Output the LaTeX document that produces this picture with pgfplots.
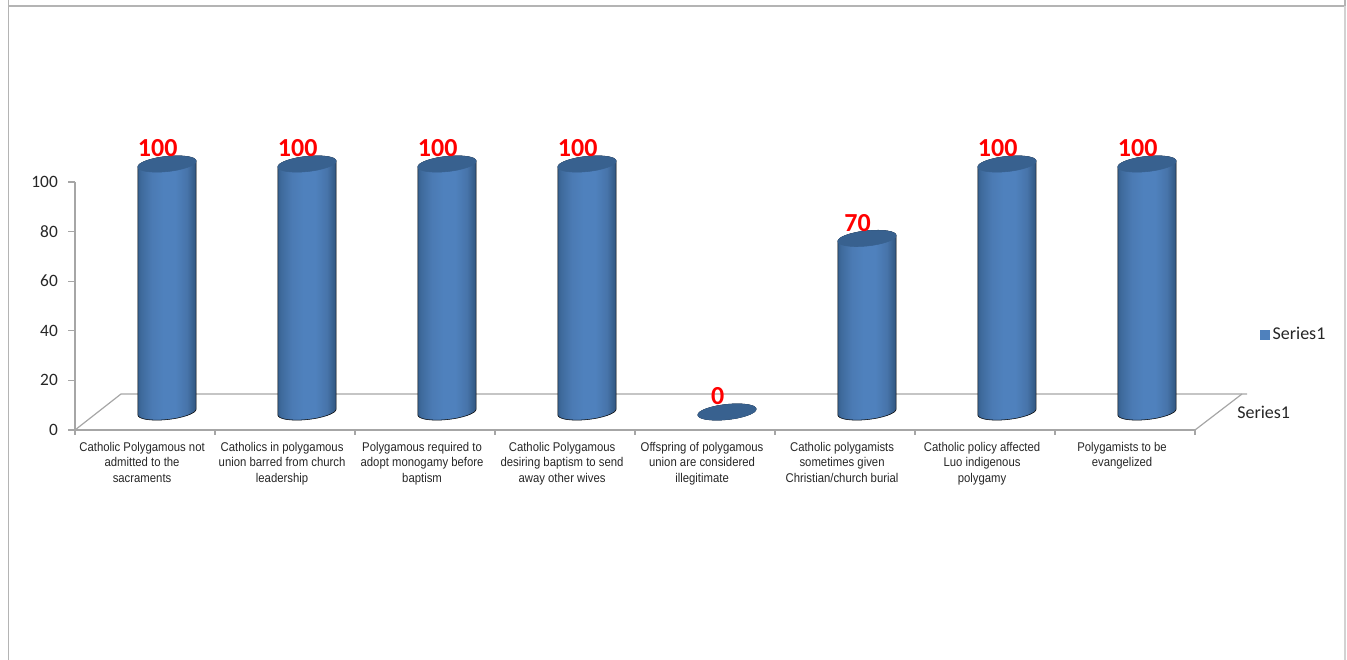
\documentclass[border=0pt]{standalone}
\usepackage{fontspec}
\usepackage{pgfplots}
\pgfplotsset{compat=1.18}
\setmainfont{Carlito}
\newfontfamily\catfont[FakeStretch=0.895]{Liberation Sans}
\definecolor{framegrey}{HTML}{B4B4B4}
\definecolor{axisgrey}{HTML}{A6A6A6}
\definecolor{barblue}{HTML}{4F81BD}
\definecolor{capblue}{HTML}{38618F}
\definecolor{labelink}{HTML}{262626}
% The fitted part of a shading is its middle 50bp
\pgfdeclarehorizontalshading{cylbody}{100bp}{
  color(0bp)=(capblue);
  color(25bp)=(capblue);
  color(28bp)=(capblue!70!barblue);
  color(37bp)=(barblue!95!black);
  color(47bp)=(barblue);
  color(57bp)=(barblue);
  color(67bp)=(barblue!90!black);
  color(72bp)=(capblue);
  color(75bp)=(capblue!88!black);
  color(100bp)=(capblue!88!black)}

% One cylinder: the mark sits on the top of the bar, its height comes from the value
\pgfdeclareplotmark{cylinderbar}{%
  \pgfmathsetmacro\barh{\barval*1.86}%
  \path[shading=cylbody]
    (-21.9pt,-2.19pt) -- (-21.9pt,-2.19pt-\barh pt)
    .. controls (-21.9pt,-5.34pt-\barh pt) and (-12.1pt,-6.91pt-\barh pt) .. (0pt,-5.7pt-\barh pt)
    .. controls (12.1pt,-4.49pt-\barh pt) and (21.9pt,-0.96pt-\barh pt) .. (21.9pt,2.19pt-\barh pt)
    -- (21.9pt,2.19pt)
    .. controls (21.9pt,5.34pt) and (12.1pt,6.91pt) .. (0pt,5.7pt)
    .. controls (-12.1pt,4.49pt) and (-21.9pt,0.96pt) .. (-21.9pt,-2.19pt) -- cycle;
  \fill[capblue]
    (-21.9pt,-2.19pt)
    .. controls (-21.9pt,-5.34pt) and (-12.1pt,-6.91pt) .. (0pt,-5.7pt)
    .. controls (12.1pt,-4.49pt) and (21.9pt,-0.96pt) .. (21.9pt,2.19pt)
    .. controls (21.9pt,5.34pt) and (12.1pt,6.91pt) .. (0pt,5.7pt)
    .. controls (-12.1pt,4.49pt) and (-21.9pt,0.96pt) .. (-21.9pt,-2.19pt) -- cycle;
}

\begin{document}
\begin{tikzpicture}[x=0.75pt,y=0.75pt]
\path[use as bounding box] (0,0) rectangle (1347,660);
% Outer chart frame, open at the foot of the page
\draw[framegrey,line width=1.3pt] (8.5,660) -- (8.5,654) -- (1345,654) -- (1345,660);
\draw[framegrey,line width=1.3pt] (8.5,660) -- (8.5,0);
\draw[framegrey!60,line width=0.8pt] (1345,654) -- (1345,0);

% Front axis with scale and category names
\begin{axis}[
  at={(56.25pt,172.5pt)}, anchor=origin,
  scale only axis, width=840pt, height=186pt,
  xmin=0, xmax=8, ymin=0, ymax=100,
  axis x line=bottom, axis y line=left,
  axis line style={-,draw=axisgrey,line width=0.9pt},
  clip=false,
  ytick={0,20,...,100},
  tick style={draw=axisgrey,line width=0.8pt},
  major tick length=5.2pt,
  tick align=outside,
  /pgf/number format/assume math mode=true,
  yticklabel style={font=\fontsize{13}{15}\selectfont,text=labelink,inner sep=0pt,xshift=-7.5pt},
  xtick={0.5,1.5,...,7.5},
  minor xtick={0,1,...,8},
  x tick style={draw=none},
  minor x tick style={draw=axisgrey,line width=0.8pt},
  minor tick length=3.5pt,
  xticklabels={
    {Catholic Polygamous not\\admitted to the\\sacraments},
    {Catholics in polygamous\\union barred from church\\leadership},
    {Polygamous required to\\adopt monogamy before\\baptism},
    {Catholic Polygamous\\desiring baptism to send\\away other wives},
    {Offspring of polygamous\\union are considered\\illegitimate},
    {Catholic polygamists\\sometimes given\\Christian/church burial},
    {Catholic policy affected\\Luo indigenous\\polygamy},
    {Polygamists to be\\evangelized}},
  xticklabel style={align=center,anchor=north,inner sep=0pt,xshift=-2.2pt,yshift=-3.8pt,
    text=labelink,font=\catfont\fontsize{9.5}{11.6}\selectfont},
]
\end{axis}

% Floor of the plot and the depth axis label
\draw[axisgrey,line width=0.9pt] (75,230) -- (121,266) -- (1247,266);
\draw[axisgrey,line width=0.9pt] (1195,230) -- (1242,266);
\node[font=\fontsize{13.5}{15}\selectfont,text=labelink,anchor=west,inner sep=0pt] at (1237,248) {Series1};

% Cylinders stand on the floor, so their axis sits behind the front one
\begin{axis}[
  at={(72.75pt,186pt)}, anchor=origin,
  scale only axis, width=840pt, height=186pt,
  xmin=0, xmax=8, ymin=0, ymax=100,
  hide axis, clip=false,
  /pgf/number format/assume math mode=true,
  legend style={draw=none,fill=none,at={(1.0385,0.3115)},anchor=west,inner sep=0pt,
    font=\fontsize{13.5}{15}\selectfont,text=labelink},
  legend cell align=left,
]
\addplot[
  scatter, only marks, scatter src=y,
  mark=cylinderbar,
  visualization depends on={rawy \as \barval},
  legend image code/.code={\fill[barblue] (0pt,-3.4pt) rectangle (6.8pt,3.4pt);},
  nodes near coords,
  nodes near coords style={anchor=center,shift={(-7pt,11.8pt)},text=red,
    font=\fontsize{19.5}{21}\bfseries\selectfont},
] coordinates {
  (0.5,100) (1.5,100) (2.5,100) (3.5,100) (4.5,0) (5.5,70) (6.5,100) (7.5,100)
};
\addlegendentry{Series1}
\end{axis}
\end{tikzpicture}
\end{document}
